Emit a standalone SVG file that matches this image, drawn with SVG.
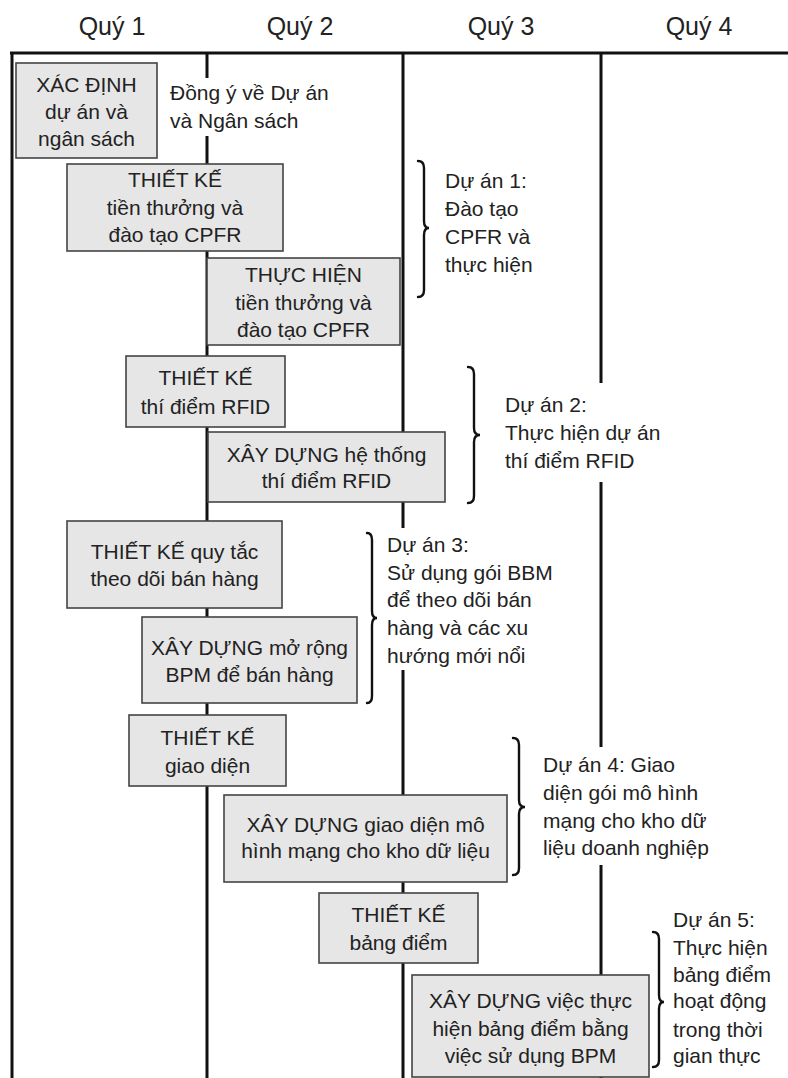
<svg xmlns="http://www.w3.org/2000/svg" width="788" height="1078" viewBox="0 0 788 1078">
<style>
text{font-family:"Liberation Sans",Arial,sans-serif;fill:#222;}
.hd{font-size:25px;text-anchor:middle;}
.bx{font-size:21px;text-anchor:middle;}
.lb{font-size:21px;}
.grid{stroke:#111;stroke-width:3;fill:none;}
.box{fill:#e6e6e6;stroke:#444;stroke-width:1.6;}
.brace{fill:none;stroke:#111;stroke-width:2.4;stroke-linecap:round;}
</style>
<rect width="788" height="1078" fill="#fff"/>
<g id="headers">
<text class="hd" x="112" y="35">Quý 1</text>
<text class="hd" x="300" y="35">Quý 2</text>
<text class="hd" x="501" y="35">Quý 3</text>
<text class="hd" x="699" y="35">Quý 4</text>
</g>
<g id="connectors">
<path class="grid" d="M10,53H788M12,52V1078M207,53V78M207,136V1078M403,53V528M403,670V1078M601,53V383M601,482V747M601,865V1078"/>
<path class="brace" d="M418,161Q424,161 424,168V221Q424,228 429,228Q424,228 424,235V290Q424,297 418,297"/>
<path class="brace" d="M468,367Q474,367 474,374V428Q474,435 480,435Q474,435 474,442V496Q474,503 468,503"/>
<path class="brace" d="M367,533Q372,533 372,540V611Q372,618 377,618Q372,618 372,625V696Q372,703 367,703"/>
<path class="brace" d="M513,738Q519,738 519,745V800Q519,807 525,807Q519,807 519,814V868Q519,875 513,875"/>
<path class="brace" d="M653,932Q659,932 659,939V995Q659,1002 664,1002Q659,1002 659,1009V1060Q659,1067 653,1067"/>
</g>
<g id="n1"><rect class="box" x="16" y="63" width="141" height="95"/>
<text class="bx" x="86.5" y="92">XÁC ĐỊNH</text><text class="bx" x="86.5" y="119">dự án và</text><text class="bx" x="86.5" y="146">ngân sách</text></g>
<g id="agree"><text class="lb" x="170" y="100">Đồng ý về Dự án</text><text class="lb" x="170" y="128">và Ngân sách</text></g>
<g id="n2"><rect class="box" x="67" y="164" width="216" height="87"/>
<text class="bx" x="175" y="187">THIẾT KẾ</text><text class="bx" x="175" y="215">tiền thưởng và</text><text class="bx" x="175" y="242">đào tạo CPFR</text></g>
<g id="n3"><rect class="box" x="207" y="258" width="193" height="87"/>
<text class="bx" x="303.5" y="282">THỰC HIỆN</text><text class="bx" x="303.5" y="310">tiền thưởng và</text><text class="bx" x="303.5" y="337">đào tạo CPFR</text></g>
<g id="p1"><text class="lb" x="445" y="188">Dự án 1:</text><text class="lb" x="445" y="216">Đào tạo</text><text class="lb" x="445" y="244">CPFR và</text><text class="lb" x="445" y="272">thực hiện</text></g>
<g id="n4"><rect class="box" x="126" y="356" width="159" height="71"/>
<text class="bx" x="205.5" y="385">THIẾT KẾ</text><text class="bx" x="205.5" y="414">thí điểm RFID</text></g>
<g id="n5"><rect class="box" x="208" y="432" width="237" height="70"/>
<text class="bx" x="326.5" y="462">XÂY DỰNG hệ thống</text><text class="bx" x="326.5" y="488">thí điểm RFID</text></g>
<g id="p2"><text class="lb" x="505" y="412">Dự án 2:</text><text class="lb" x="505" y="440">Thực hiện dự án</text><text class="lb" x="505" y="468">thí điểm RFID</text></g>
<g id="n6"><rect class="box" x="67" y="521" width="215" height="87"/>
<text class="bx" x="174.5" y="559">THIẾT KẾ quy tắc</text><text class="bx" x="174.5" y="586">theo dõi bán hàng</text></g>
<g id="n7"><rect class="box" x="142" y="617" width="215" height="86"/>
<text class="bx" x="249.5" y="655">XÂY DỰNG mở rộng</text><text class="bx" x="249.5" y="682">BPM để bán hàng</text></g>
<g id="p3"><text class="lb" x="387" y="552">Dự án 3:</text><text class="lb" x="387" y="580">Sử dụng gói BBM</text><text class="lb" x="387" y="607">để theo dõi bán</text><text class="lb" x="387" y="635">hàng và các xu</text><text class="lb" x="387" y="663">hướng mới nổi</text></g>
<g id="n8"><rect class="box" x="129" y="715" width="157" height="71"/>
<text class="bx" x="207.5" y="745">THIẾT KẾ</text><text class="bx" x="207.5" y="773">giao diện</text></g>
<g id="n9"><rect class="box" x="224" y="795" width="283" height="87"/>
<text class="bx" x="365.5" y="832">XÂY DỰNG giao diện mô</text><text class="bx" x="365.5" y="858">hình mạng cho kho dữ liệu</text></g>
<g id="p4"><text class="lb" x="543" y="772">Dự án 4: Giao</text><text class="lb" x="543" y="800">diện gói mô hình</text><text class="lb" x="543" y="828">mạng cho kho dữ</text><text class="lb" x="543" y="855">liệu doanh nghiệp</text></g>
<g id="n10"><rect class="box" x="319" y="893" width="159" height="70"/>
<text class="bx" x="398.5" y="922">THIẾT KẾ</text><text class="bx" x="398.5" y="950">bảng điểm</text></g>
<g id="n11"><rect class="box" x="412" y="975" width="237" height="102"/>
<text class="bx" x="530.5" y="1008">XÂY DỰNG việc thực</text><text class="bx" x="530.5" y="1036">hiện bảng điểm bằng</text><text class="bx" x="530.5" y="1063">việc sử dụng BPM</text></g>
<g id="p5"><text class="lb" x="673" y="927">Dự án 5:</text><text class="lb" x="673" y="955">Thực hiện</text><text class="lb" x="673" y="982">bảng điểm</text><text class="lb" x="673" y="1008">hoạt động</text><text class="lb" x="673" y="1037">trong thời</text><text class="lb" x="673" y="1063">gian thực</text></g>
</svg>
